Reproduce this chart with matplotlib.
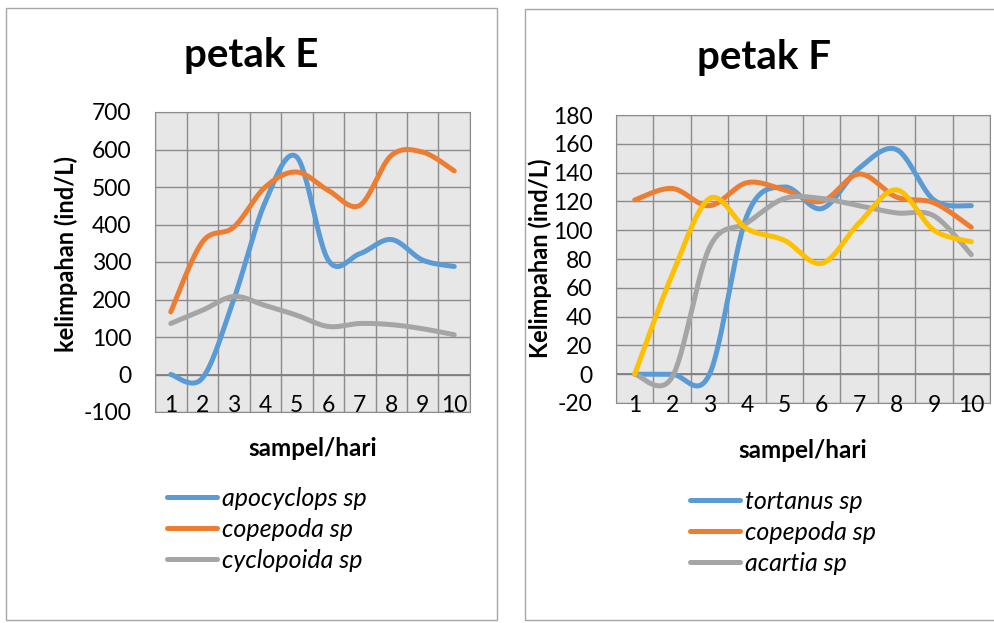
import numpy as np
import matplotlib
matplotlib.use("Agg")
import matplotlib.pyplot as plt
from matplotlib.patches import Rectangle
import matplotlib.transforms as mtransforms

plt.rcParams['font.family'] = ['Lato', 'DejaVu Sans']
plt.rcParams['axes.unicode_minus'] = False

days = [1, 2, 3, 4, 5, 6, 7, 8, 9, 10]

# petak E
apocyclops = [0, -10, 200, 460, 580, 305, 322, 360, 305, 288]
copepoda_e = [167, 353, 393, 500, 540, 491, 451, 584, 593, 543]
cyclopoida = [136, 171, 208, 184, 158, 128, 136, 133, 122, 106]

# petak F
tortanus = [0, 0, 0, 110, 130, 115, 143, 156, 121, 117]
copepoda_f = [121, 129, 117, 133, 128, 120, 139, 123, 119, 102]
acartia = [0, -2, 88, 105, 122, 122, 117, 112, 110, 83]
yellow_f = [0, 69, 122, 101, 93, 77, 105, 128, 100, 92]

blue = '#5B9BD5'
orange = '#ED7D31'
gray = '#A5A5A5'
yellow = '#FFC000'


def smooth(x, y, n=30):
    # catmull-rom style path through the points, like excel smoothed lines
    x = np.asarray(x, float)
    y = np.asarray(y, float)
    px = np.concatenate([[x[0]], x, [x[-1]]])
    py = np.concatenate([[y[0]], y, [y[-1]]])
    xs, ys = [], []
    t = np.linspace(0, 1, n)
    for i in range(1, len(px) - 2):
        for p, out in ((px, xs), (py, ys)):
            p0, p1, p2, p3 = p[i - 1], p[i], p[i + 1], p[i + 2]
            m1 = (p2 - p0) / 2
            m2 = (p3 - p1) / 2
            h00 = 2 * t**3 - 3 * t**2 + 1
            h10 = t**3 - 2 * t**2 + t
            h01 = -2 * t**3 + 3 * t**2
            h11 = t**3 - t**2
            out.extend(h00 * p1 + h10 * m1 + h01 * p2 + h11 * m2)
    return np.array(xs), np.array(ys)


def setup(ax, ymin, ymax, step, lab_y):
    ax.set_facecolor('#e7e7e7')
    ax.set_xlim(0.5, 10.5)
    ax.set_ylim(ymin, ymax)
    ax.set_yticks(np.arange(ymin, ymax + 1, step))
    ax.set_xticks(np.arange(0.5, 11, 1))
    ax.set_xticklabels([])
    ax.grid(True, color='#8c8c8c', lw=1)
    ax.set_axisbelow(True)
    ax.tick_params(length=0, labelsize=16.5, pad=17)
    for s in ax.spines.values():
        s.set_color('#8c8c8c')
    ax.axhline(0, color='#7f7f7f', lw=1.3, zorder=1)
    tr = mtransforms.blended_transform_factory(ax.transData, ax.transAxes)
    for d in days:
        ax.text(d, lab_y, str(d), transform=tr, ha='center', va='center',
                fontsize=16.5)


fig = plt.figure(figsize=(9.95, 6.23), dpi=100)

fig.patches.append(Rectangle((6 / 995, 3 / 623), 491 / 995, 612 / 623,
                             transform=fig.transFigure, fill=False,
                             ec='#a6a6a6', lw=1))
fig.patches.append(Rectangle((525 / 995, 3 / 623), 480 / 995, 611 / 623,
                             transform=fig.transFigure, fill=False,
                             ec='#a6a6a6', lw=1))

ax1 = fig.add_axes([155 / 995, 1 - 412 / 623, 315 / 995, 300 / 623])
setup(ax1, -100, 700, 100, 0.02)
l1 = []
for vals, c, name in ((apocyclops, blue, 'apocyclops sp'),
                      (copepoda_e, orange, 'copepoda sp'),
                      (cyclopoida, gray, 'cyclopoida sp')):
    sx, sy = smooth(days, vals)
    l1 += ax1.plot(sx, sy, color=c, lw=3.6, solid_capstyle='round',
                   label=name)

ax2 = fig.add_axes([616 / 995, 1 - 403 / 623, 374 / 995, 288 / 623])
setup(ax2, -20, 180, 20, -0.01)
l2 = []
for vals, c, name in ((tortanus, blue, 'tortanus sp'),
                      (copepoda_f, orange, 'copepoda sp'),
                      (acartia, gray, 'acartia sp'),
                      (yellow_f, yellow, None)):
    sx, sy = smooth(days, vals)
    ln = ax2.plot(sx, sy, color=c, lw=3.6, solid_capstyle='round')
    if name:
        ln[0].set_label(name)
        l2 += ln

fig.text(251 / 995, 1 - 55 / 623, 'petak E', fontsize=29, weight='bold',
         ha='center', va='center')
fig.text(764 / 995, 1 - 57 / 623, 'petak F', fontsize=29, weight='bold',
         ha='center', va='center')

fig.text(66 / 995, 1 - 254 / 623, 'kelimpahan (ind/L)', rotation=90,
         fontsize=17, weight='bold', ha='center', va='center')
fig.text(540 / 995, 1 - 258 / 623, 'Kelimpahan (ind/L)', rotation=90,
         fontsize=17, weight='bold', ha='center', va='center')

fig.text(313 / 995, 1 - 448 / 623, 'sampel/hari', fontsize=17.5,
         weight='bold', ha='center', va='center')
fig.text(803 / 995, 1 - 450 / 623, 'sampel/hari', fontsize=17.5,
         weight='bold', ha='center', va='center')

leg_kw = dict(frameon=False, prop={'style': 'italic', 'size': 18},
              handlelength=2.0, handletextpad=0.2, labelspacing=0.32,
              borderaxespad=0)
fig.legend(handles=l1, loc='upper left',
           bbox_to_anchor=(157 / 995, 1 - 477 / 623), **leg_kw)
fig.legend(handles=l2, loc='upper left',
           bbox_to_anchor=(680 / 995, 1 - 480 / 623), **leg_kw)

fig.savefig('out.png', dpi=100)
